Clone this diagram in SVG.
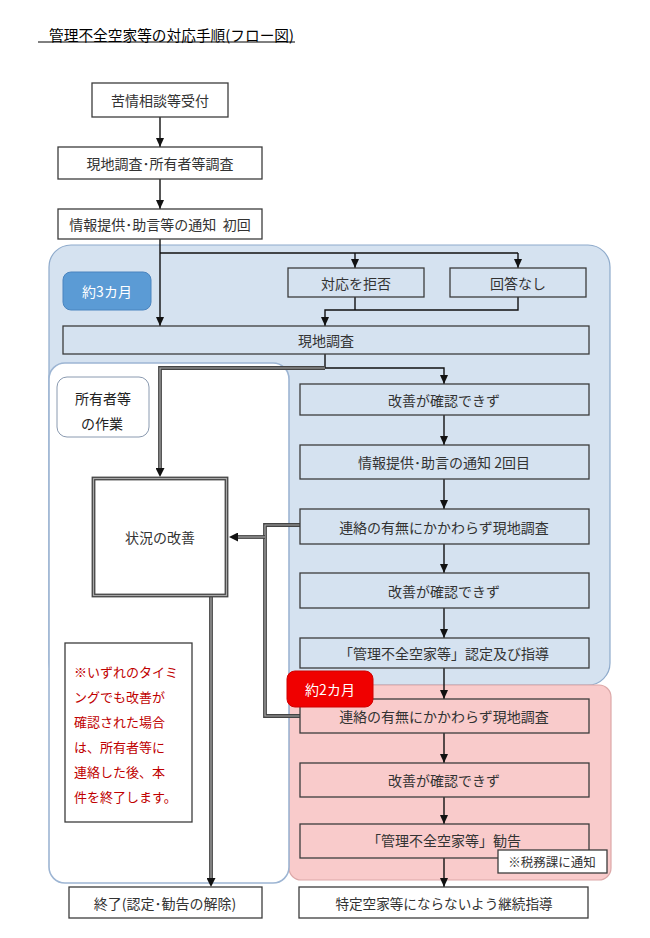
<svg xmlns="http://www.w3.org/2000/svg" width="650" height="938" viewBox="0 0 650 938">
<style>
text{font-family:"Noto Sans CJK JP","Noto Sans",sans-serif;}
.box{fill:#fff;stroke:#3c3c3c;stroke-width:1.3;}
.tbox{fill:none;stroke:#3c3c3c;stroke-width:1.3;}
.t{font-size:14px;fill:#333;text-anchor:middle;dominant-baseline:central;}
.ln{fill:none;stroke:#111;stroke-width:1.4;}
.dblo{fill:none;stroke:#444;stroke-width:3.8;}
.dbli{fill:none;stroke:#a8a8a8;stroke-width:1.2;}
.note{font-size:13px;fill:#c00000;}
</style>
<defs>
<marker id="arr" viewBox="0 0 9 8" markerWidth="9" markerHeight="8" refX="9" refY="4" orient="auto" markerUnits="userSpaceOnUse"><path d="M0,0 L9,4 L0,8 z" fill="#111"/></marker>
<marker id="arrb" viewBox="0 0 9 9" markerWidth="9" markerHeight="9" refX="0" refY="4.5" orient="auto" markerUnits="userSpaceOnUse"><path d="M0,0 L9,4.5 L0,9 z" fill="#111"/></marker>
</defs>
<rect width="650" height="938" fill="#fff"/>

<g id="title">
<text x="49" y="34" font-size="14.5" fill="#000" dominant-baseline="central" textLength="245" lengthAdjust="spacingAndGlyphs">管理不全空家等の対応手順(フロー図)</text>
<line x1="38" y1="42" x2="295" y2="42" stroke="#000" stroke-width="1"/>
</g>

<g id="region-3months">
<rect x="49" y="245" width="561" height="440" rx="22" fill="#d5e2f0" stroke="#8eaacb" stroke-width="1.2"/>
</g>
<g id="region-2months">
<rect x="289" y="685" width="322" height="195" rx="12" fill="#f9cbcb" stroke="#dca8a8" stroke-width="1.2"/>
</g>
<g id="region-owner">
<rect x="49" y="363" width="240" height="520" rx="16" fill="#fff" stroke="#9db5d3" stroke-width="1.6"/>
</g>

<g id="connectors">
<path class="ln" d="M160,117 V147" marker-end="url(#arr)"/>
<path class="ln" d="M160,179 V209" marker-end="url(#arr)"/>
<path class="ln" d="M160,239 V326" marker-end="url(#arr)"/>
<path class="ln" d="M160,253 H518"/>
<path class="ln" d="M355,253 V268" marker-end="url(#arr)"/>
<path class="ln" d="M518,253 V268" marker-end="url(#arr)"/>
<path class="ln" d="M355,297 V310"/>
<path class="ln" d="M518,297 V310 H325 V326" marker-end="url(#arr)"/>
<path class="ln" d="M325,354 V368 H444 V384" marker-end="url(#arr)"/>
<path class="ln" d="M444,415 V445" marker-end="url(#arr)"/>
<path class="ln" d="M444,479 V509" marker-end="url(#arr)"/>
<path class="ln" d="M444,544 V573" marker-end="url(#arr)"/>
<path class="ln" d="M444,608 V638" marker-end="url(#arr)"/>
<path class="ln" d="M444,668 V699" marker-end="url(#arr)"/>
<path class="ln" d="M444,733 V763" marker-end="url(#arr)"/>
<path class="ln" d="M444,797 V824" marker-end="url(#arr)"/>
<path class="ln" d="M444,858 V887" marker-end="url(#arr)"/>
<path class="dblo" d="M325,368 H160 V468" marker-end="url(#arrb)"/>
<path class="dbli" d="M325,368 H160 V468"/>
<path class="dblo" d="M300,525 H265 V716 H300"/>
<path class="dbli" d="M300,525 H265 V716 H300"/>
<path class="dblo" d="M265,537 H238" marker-end="url(#arrb)"/>
<path class="dbli" d="M265,537 H238"/>
<path class="dblo" d="M211,597 V878" marker-end="url(#arrb)"/>
<path class="dbli" d="M211,597 V878"/>
</g>

<g id="n-uketsuke"><rect class="box" x="92" y="83" width="136" height="34"/><text class="t" x="160" y="100">苦情相談等受付</text></g>
<g id="n-chousa"><rect class="box" x="58" y="147" width="204" height="32"/><text class="t" x="160" y="163">現地調査･所有者等調査</text></g>
<g id="n-tsuchi1"><rect class="box" x="58" y="209" width="204" height="30"/><text class="t" x="160" y="224" xml:space="preserve">情報提供･助言等の通知  初回</text></g>

<g id="lbl-3months"><rect x="63" y="272" width="88" height="38" rx="8" fill="#5b9bd5" stroke="#4a84bf" stroke-width="1"/><text class="t" x="107" y="291" style="fill:#fff">約3カ月</text></g>
<g id="n-kyohi"><rect class="tbox" x="288" y="268" width="136" height="29"/><text class="t" x="356" y="282.5">対応を拒否</text></g>
<g id="n-kaitou"><rect class="tbox" x="450" y="268" width="136" height="29"/><text class="t" x="518" y="282.5">回答なし</text></g>
<g id="n-genchi"><rect class="tbox" x="63" y="326" width="526" height="28"/><text class="t" x="326" y="340">現地調査</text></g>

<g id="lbl-owner"><rect x="57" y="377" width="92" height="60" rx="10" fill="#fff" stroke="#8a9ab0" stroke-width="1"/><text class="t" x="103" y="398" style="fill:#222">所有者等</text><text class="t" x="102" y="423" style="fill:#222">の作業</text></g>
<g id="n-kaizen"><rect x="93.5" y="478.5" width="133" height="117" fill="#fff" stroke="#444" stroke-width="3.8"/><rect x="93.5" y="478.5" width="133" height="117" fill="none" stroke="#a8a8a8" stroke-width="1.2"/><text class="t" x="160" y="537">状況の改善</text></g>
<g id="n-note"><rect class="box" x="65" y="643" width="127" height="179"/>
<text class="note" x="74" y="671" dominant-baseline="central">※いずれのタイミ</text>
<text class="note" x="74" y="696" dominant-baseline="central">ングでも改善が</text>
<text class="note" x="74" y="721" dominant-baseline="central">確認された場合</text>
<text class="note" x="74" y="746" dominant-baseline="central">は、所有者等に</text>
<text class="note" x="74" y="771" dominant-baseline="central">連絡した後、本</text>
<text class="note" x="74" y="796" dominant-baseline="central">件を終了します。</text>
</g>

<g id="n-kakunin1"><rect class="tbox" x="300" y="384" width="289" height="31"/><text class="t" x="444" y="399.5">改善が確認できず</text></g>
<g id="n-tsuchi2"><rect class="tbox" x="300" y="445" width="289" height="34"/><text class="t" x="444" y="462">情報提供･助言の通知 2回目</text></g>
<g id="n-renraku1"><rect class="tbox" x="300" y="509" width="289" height="35"/><text class="t" x="444" y="526.5">連絡の有無にかかわらず現地調査</text></g>
<g id="n-kakunin2"><rect class="tbox" x="300" y="573" width="289" height="35"/><text class="t" x="444" y="590.5">改善が確認できず</text></g>
<g id="n-nintei"><rect class="tbox" x="300" y="638" width="289" height="30"/><text class="t" x="444" y="653">「管理不全空家等」認定及び指導</text></g>

<g id="n-renraku2"><rect class="tbox" x="300" y="699" width="289" height="34"/><text class="t" x="444" y="716">連絡の有無にかかわらず現地調査</text></g>
<g id="lbl-2months"><rect x="287" y="671" width="86" height="36" rx="8" fill="#f00000" stroke="#d00000" stroke-width="1"/><text class="t" x="330" y="689" style="fill:#fff">約2カ月</text></g>
<g id="n-kakunin3"><rect class="tbox" x="300" y="763" width="289" height="34"/><text class="t" x="444" y="780">改善が確認できず</text></g>
<g id="n-kankoku"><rect class="tbox" x="300" y="824" width="289" height="34"/><text class="t" x="444" y="840">「管理不全空家等」勧告</text></g>
<g id="n-zeimu"><rect class="box" x="498" y="850" width="109" height="23"/><text class="t" x="552" y="861.5" style="font-size:12.5px">※税務課に通知</text></g>

<g id="n-shuryo"><rect class="box" x="69" y="887" width="193" height="31"/><text class="t" x="165" y="902.5">終了(認定･勧告の解除)</text></g>
<g id="n-keizoku"><rect class="box" x="299" y="887" width="289" height="31"/><text class="t" x="444" y="902.5" style="font-size:13.6px">特定空家等にならないよう継続指導</text></g>
</svg>
